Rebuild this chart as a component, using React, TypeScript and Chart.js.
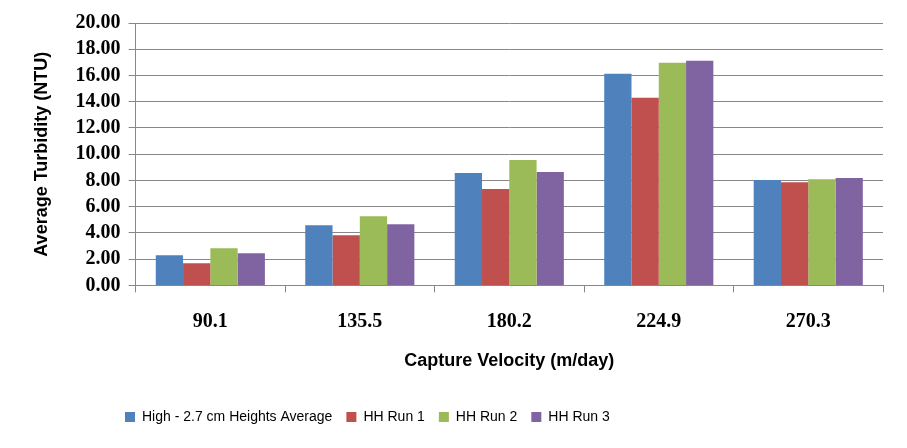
import { useEffect, useRef } from "react";
import { Chart, registerables, type ChartOptions, type Plugin } from "chart.js";

Chart.register(...registerables);

const categories = ["90.1", "135.5", "180.2", "224.9", "270.3"];
const highAverage = [2.29, 4.59, 8.56, 16.13, 8.03];
const hhRun1 = [1.68, 3.82, 7.34, 14.3, 7.87];
const hhRun2 = [2.83, 5.28, 9.56, 16.97, 8.1];
const hhRun3 = [2.45, 4.66, 8.64, 17.13, 8.18];

const SANS = "'Liberation Sans', Arial, sans-serif";
const SERIF = "'Liberation Serif', 'Times New Roman', serif";

// the legend in the original sits left of centre, so pin its left edge
const legendLeft: Plugin<"bar"> = {
  id: "legendLeft",
  afterLayout(chart) {
    if (chart.legend) chart.legend.left = 111;
  }
};

export default function App() {
  const canvasRef = useRef<HTMLCanvasElement | null>(null);
  const chartRef = useRef<Chart | null>(null);

  useEffect(() => {
    if (!canvasRef.current) return;
    if (chartRef.current) chartRef.current.destroy();

    const options: ChartOptions<"bar"> = {
      responsive: true,
      maintainAspectRatio: false,
      animation: false,
      layout: { padding: { top: 23, right: 24, left: 31, bottom: 14 } },
      scales: {
        x: {
          offset: true,
          grid: { display: true, drawOnChartArea: false, offset: true, tickLength: 7, color: "#888888" },
          border: { color: "#888888" },
          ticks: {
            color: "#000",
            padding: 19,
            autoSkip: false,
            font: { family: SERIF, size: 20, weight: "bold", lineHeight: 1 }
          },
          title: {
            display: true,
            text: "Capture Velocity (m/day)",
            color: "#000",
            padding: { top: 0, bottom: 24 },
            font: { family: SANS, size: 18, weight: "bold" }
          }
        },
        y: {
          min: 0,
          max: 20,
          grid: { color: "#888888", tickLength: 7 },
          border: { color: "#888888" },
          ticks: {
            stepSize: 2,
            autoSkip: false,
            color: "#000",
            padding: 8,
            font: { family: SERIF, size: 20, weight: "bold", lineHeight: 1 },
            callback: (v) => Number(v).toFixed(2)
          },
          title: {
            display: true,
            text: "Average Turbidity (NTU)",
            color: "#000",
            padding: { top: 0, bottom: 15 },
            font: { family: SANS, size: 18, weight: "bold" }
          }
        }
      },
      plugins: {
        legend: {
          display: true,
          position: "bottom",
          align: "start",
          labels: {
            boxWidth: 10,
            boxHeight: 10,
            padding: 14,
            color: "#000",
            font: { family: SANS, size: 14 }
          }
        },
        tooltip: { enabled: false }
      }
    };

    const series = [
      { label: "High - 2.7 cm Heights Average", values: highAverage, color: "#4F81BD" },
      { label: "HH Run 1", values: hhRun1, color: "#C0504D" },
      { label: "HH Run 2", values: hhRun2, color: "#9BBB59" },
      { label: "HH Run 3", values: hhRun3, color: "#8064A2" }
    ];

    chartRef.current = new Chart(canvasRef.current, {
      type: "bar",
      data: {
        labels: categories,
        datasets: series.map((s) => ({
          label: s.label,
          data: s.values,
          backgroundColor: s.color,
          borderWidth: 0,
          barPercentage: 1,
          categoryPercentage: 0.73
        }))
      },
      options,
      plugins: [legendLeft]
    });

    return () => chartRef.current?.destroy();
  }, []);

  return (
    <div style={{ position: "fixed", left: 0, top: 0, width: 907, height: 448, background: "#fff" }}>
      <canvas ref={canvasRef} />
    </div>
  );
}
